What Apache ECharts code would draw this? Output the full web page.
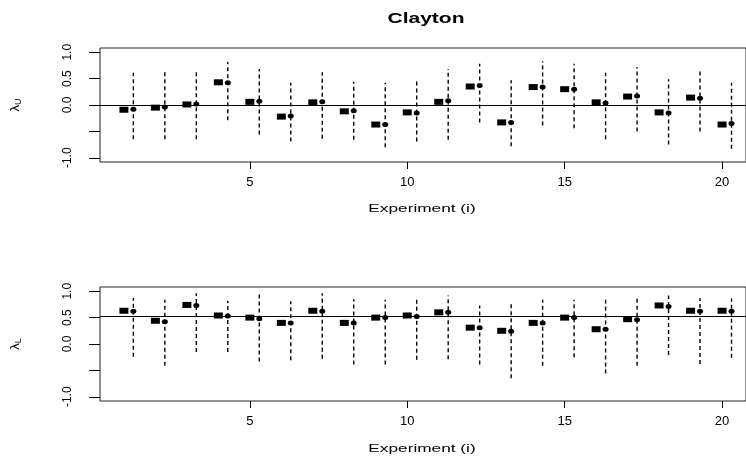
<!DOCTYPE html>
<html><head><meta charset="utf-8">
<script src="https://cdn.jsdelivr.net/npm/echarts@6/dist/echarts.min.js"></script>
<style>html,body{margin:0;padding:0;background:#fff}#c{width:746px;height:456px}</style>
</head><body><div id="c"></div>
<script>
var experiments = [1,2,3,4,5,6,7,8,9,10,11,12,13,14,15,16,17,18,19,20];
var xTicks = [5,10,15,20];
var yTicks = [-1.0,-0.5,0.0,0.5,1.0];
var yLabels = [-1.0,0.0,0.5,1.0];
// lambda_U panel
var upperSquare = [-0.09,-0.05,0.01,0.43,0.06,-0.22,0.05,-0.12,-0.37,-0.14,0.06,0.35,-0.33,0.34,0.30,0.05,0.16,-0.14,0.14,-0.37];
var upperDot    = [-0.08,-0.04,0.02,0.42,0.07,-0.21,0.06,-0.11,-0.37,-0.15,0.08,0.37,-0.33,0.34,0.30,0.04,0.17,-0.15,0.13,-0.35];
var upperHigh   = [0.61,0.67,0.67,0.82,0.68,0.42,0.62,0.44,0.42,0.50,0.68,0.78,0.47,0.83,0.78,0.61,0.72,0.49,0.68,0.42];
var upperLow    = [-0.65,-0.65,-0.65,-0.29,-0.56,-0.69,-0.64,-0.66,-0.80,-0.69,-0.66,-0.33,-0.78,-0.39,-0.44,-0.65,-0.50,-0.75,-0.50,-0.83];
var upperRef = 0.0;
// lambda_L panel
var lowerSquare = [0.63,0.44,0.74,0.54,0.50,0.40,0.63,0.40,0.50,0.54,0.60,0.31,0.25,0.40,0.50,0.28,0.47,0.73,0.63,0.63];
var lowerDot    = [0.62,0.42,0.73,0.53,0.48,0.40,0.62,0.40,0.50,0.52,0.60,0.31,0.24,0.40,0.50,0.28,0.46,0.71,0.62,0.62];
var lowerHigh   = [0.87,0.84,0.96,0.82,0.94,0.81,0.96,0.85,0.84,0.89,0.92,0.73,0.76,0.84,0.84,0.84,0.86,0.92,0.87,0.86];
var lowerLow    = [-0.24,-0.41,-0.15,-0.15,-0.33,-0.31,-0.28,-0.39,-0.39,-0.30,-0.29,-0.39,-0.65,-0.41,-0.25,-0.56,-0.41,-0.21,-0.38,-0.26];
var lowerRef = 0.52;

var FONT = 'Liberation Sans, Arial, Helvetica, sans-serif';
var DOT_OFFSET = 0.3;
var STRETCH = 1.5;
var chart = echarts.init(document.getElementById('c'), null, {renderer:'canvas'});

function xAxis(gi){
  return {
    gridIndex: gi, type: 'value', min: 0.24, max: 20.76,
    axisLine: {show: false, onZero: false},
    splitLine: {show: false},
    axisTick: {show: true, length: 7, lineStyle: {color: '#000'}, customValues: xTicks},
    axisLabel: {show: true, margin: 14, fontFamily: FONT, fontSize: 13, color: '#000', customValues: xTicks,
      formatter: function(v){ return String(v); }}
  };
}
function yAxis(gi, sub){
  return {
    gridIndex: gi, type: 'value', min: -1.08, max: 1.08,
    name: '{a|λ}{b|' + sub + '}', nameLocation: 'middle', nameGap: 77, nameRotate: 90,
    nameTextStyle: {rich: {a: {fontFamily: FONT, fontSize: 13, color: '#000', lineHeight: 16},
                           b: {fontFamily: FONT, fontSize: 9, color: '#000', lineHeight: 16, verticalAlign: 'bottom', padding: [6,0,0,0]}}},
    axisLine: {show: false, onZero: false},
    splitLine: {show: false},
    axisTick: {show: true, length: 11, lineStyle: {color: '#000'}, customValues: yTicks},
    axisLabel: {show: true, rotate: 90, margin: 26, fontFamily: FONT, fontSize: 12, color: '#000', customValues: yLabels,
      formatter: function(v){ return v.toFixed(1); }}
  };
}
function errSeries(gi, low, high){
  return {
    type: 'custom', xAxisIndex: gi, yAxisIndex: gi, silent: true,
    data: experiments.map(function(e,k){ return [e, low[k], high[k]]; }),
    renderItem: function(params, api){
      var x = api.value(0) + DOT_OFFSET;
      var p1 = api.coord([x, api.value(1)]);
      var p2 = api.coord([x, api.value(2)]);
      return {type: 'line', shape: {x1: p1[0], y1: p1[1], x2: p2[0], y2: p2[1]},
              style: {stroke: '#000', lineWidth: 1.4, lineDash: [4,3]}};
    }
  };
}
function squareSeries(gi, vals, ref){
  return {
    type: 'scatter', xAxisIndex: gi, yAxisIndex: gi, silent: true, z: 3,
    symbol: 'rect', symbolSize: [9,6], itemStyle: {color: '#000', opacity: 1},
    data: experiments.map(function(e,k){ return [e, vals[k]]; }),
    markLine: {silent: true, symbol: 'none', label: {show: false}, animation: false,
      lineStyle: {color: '#000', width: 1, type: 'solid', opacity: 1}, data: [{yAxis: ref}]}
  };
}
function dotSeries(gi, vals){
  return {
    type: 'scatter', xAxisIndex: gi, yAxisIndex: gi, silent: true, z: 3,
    symbol: 'circle', symbolSize: [6,5], itemStyle: {color: '#000', opacity: 1},
    data: experiments.map(function(e,k){ return [e + DOT_OFFSET, vals[k]]; })
  };
}

chart.setOption({
  animation: false,
  backgroundColor: '#fff',
  grid: [
    {left: 99, right: -8, top: 48, height: 114, show: true, borderColor: '#222', borderWidth: 1, backgroundColor: 'transparent'},
    {left: 99, right: -8, top: 287, height: 114, show: true, borderColor: '#222', borderWidth: 1, backgroundColor: 'transparent'}
  ],
  xAxis: [xAxis(0), xAxis(1)],
  yAxis: [yAxis(0,'U'), yAxis(1,'L')],
  graphic: [
    {type: 'text', x: 426, y: 12, scaleX: STRETCH, style: {text: 'Clayton', fontFamily: FONT, fontSize: 14, fontWeight: 'bold', fill: '#000', align: 'center', verticalAlign: 'top'}},
    {type: 'text', x: 422, y: 203, scaleX: STRETCH, style: {text: 'Experiment (i)', fontFamily: FONT, fontSize: 11.5, fill: '#000', align: 'center', verticalAlign: 'top'}},
    {type: 'text', x: 422, y: 443, scaleX: STRETCH, style: {text: 'Experiment (i)', fontFamily: FONT, fontSize: 11.5, fill: '#000', align: 'center', verticalAlign: 'top'}}
  ],
  series: [
    errSeries(0, upperLow, upperHigh), squareSeries(0, upperSquare, upperRef), dotSeries(0, upperDot),
    errSeries(1, lowerLow, lowerHigh), squareSeries(1, lowerSquare, lowerRef), dotSeries(1, lowerDot)
  ]
});
</script></body></html>
